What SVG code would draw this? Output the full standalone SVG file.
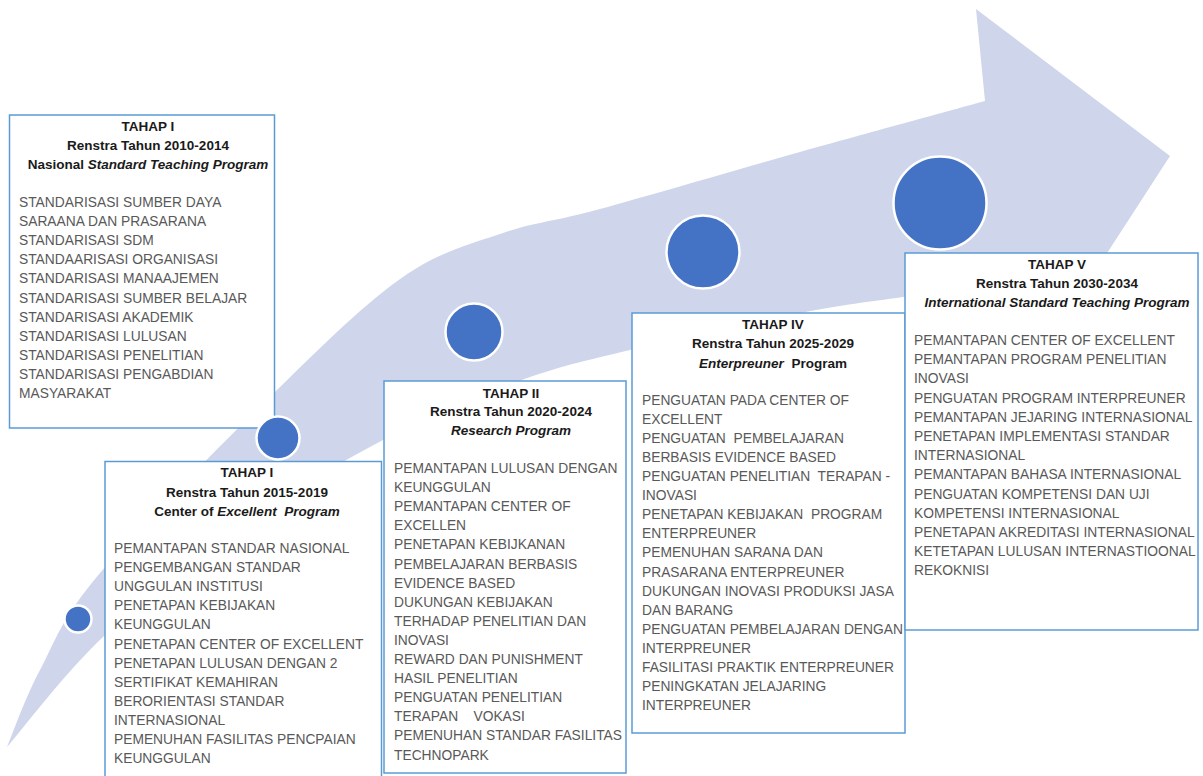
<svg xmlns="http://www.w3.org/2000/svg" width="1203" height="776" viewBox="0 0 1203 776">
<style>
.box{fill:#ffffff;stroke:#5B9BD5;stroke-width:1.5}
.dot{fill:#4472C4;stroke:#ffffff;stroke-width:2.5}
.hd{font-family:"Liberation Sans",Arial,sans-serif;font-size:13.5px;font-weight:bold;fill:#1a1a1a;text-anchor:middle;white-space:pre}
.it{font-style:italic}
.bd{font-family:"Liberation Sans",Arial,sans-serif;font-size:13.8px;fill:#595959;white-space:pre}
</style>
<rect width="1203" height="776" fill="#ffffff"/>
<g id="connectors">
<path id="arrow" fill="#CFD5EA" d="M7,747 C12.5,734.2 24.5,699 40,670 C55.5,641 60.5,619.7 100,573 C139.5,526.3 226.5,439.3 277,390 C327.5,340.7 365.3,303.2 403,277 C440.7,250.8 470.2,244.3 503,233 C535.8,221.7 550.5,222.5 600,209 C649.5,195.5 735.8,170 800,152 C864.2,134 954.2,109.5 985,101 L976,9 L1170,156 L1030,372 L1020,282 C1000.5,284.5 939.7,291.8 903,297 C866.3,302.2 845.5,304.2 800,313 C754.5,321.8 676.8,338.7 630,350 C583.2,361.3 560.2,366 519,381 C477.8,396 429.5,415.7 383,440 C336.5,464.3 286.7,494.2 240,527 C193.3,559.8 141.8,600.3 103,637 C64.2,673.7 23,728.7 7,747 Z"/>
</g>
<g id="tahap1a">
<rect class="box" x="9.5" y="115" width="265" height="313"/>
<text class="hd" x="148" y="131">TAHAP I</text>
<text class="hd" x="148" y="150">Renstra Tahun 2010-2014</text>
<text class="hd" x="148" y="169">Nasional <tspan class="it">Standard Teaching Program</tspan></text>
<text class="bd" x="19" y="207"><tspan x="19">STANDARISASI SUMBER DAYA</tspan><tspan x="19" dy="19.1">SARAANA DAN PRASARANA</tspan><tspan x="19" dy="19.1">STANDARISASI SDM</tspan><tspan x="19" dy="19.1">STANDAARISASI ORGANISASI</tspan><tspan x="19" dy="19.1">STANDARISASI MANAAJEMEN</tspan><tspan x="19" dy="19.1">STANDARISASI SUMBER BELAJAR</tspan><tspan x="19" dy="19.1">STANDARISASI AKADEMIK</tspan><tspan x="19" dy="19.1">STANDARISASI LULUSAN</tspan><tspan x="19" dy="19.1">STANDARISASI PENELITIAN</tspan><tspan x="19" dy="19.1">STANDARISASI PENGABDIAN</tspan><tspan x="19" dy="19.1">MASYARAKAT</tspan></text>
</g>
<g id="tahap1b">
<rect class="box" x="105" y="461.5" width="276.5" height="316"/>
<text class="hd" x="247" y="477">TAHAP I</text>
<text class="hd" x="247" y="497">Renstra Tahun 2015-2019</text>
<text class="hd" x="247" y="516">Center of <tspan class="it">Excellent  Program</tspan></text>
<text class="bd" x="114" y="553"><tspan x="114">PEMANTAPAN STANDAR NASIONAL</tspan><tspan x="114" dy="19.1">PENGEMBANGAN STANDAR</tspan><tspan x="114" dy="19.1">UNGGULAN INSTITUSI</tspan><tspan x="114" dy="19.1">PENETAPAN KEBIJAKAN</tspan><tspan x="114" dy="19.1">KEUNGGULAN</tspan><tspan x="114" dy="19.1">PENETAPAN CENTER OF EXCELLENT</tspan><tspan x="114" dy="19.1">PENETAPAN LULUSAN DENGAN 2</tspan><tspan x="114" dy="19.1">SERTIFIKAT KEMAHIRAN</tspan><tspan x="114" dy="19.1">BERORIENTASI STANDAR</tspan><tspan x="114" dy="19.1">INTERNASIONAL</tspan><tspan x="114" dy="19.1">PEMENUHAN FASILITAS PENCPAIAN</tspan><tspan x="114" dy="19.1">KEUNGGULAN</tspan></text>
</g>
<g id="tahap2">
<rect class="box" x="384" y="381" width="242" height="392"/>
<text class="hd" x="511" y="398">TAHAP II</text>
<text class="hd" x="511" y="416">Renstra Tahun 2020-2024</text>
<text class="hd it" x="511" y="435">Research Program</text>
<text class="bd" x="394" y="473"><tspan x="394">PEMANTAPAN LULUSAN DENGAN</tspan><tspan x="394" dy="19.1">KEUNGGULAN</tspan><tspan x="394" dy="19.1">PEMANTAPAN CENTER OF</tspan><tspan x="394" dy="19.1">EXCELLEN</tspan><tspan x="394" dy="19.1">PENETAPAN KEBIJKANAN</tspan><tspan x="394" dy="19.1">PEMBELAJARAN BERBASIS</tspan><tspan x="394" dy="19.1">EVIDENCE BASED</tspan><tspan x="394" dy="19.1">DUKUNGAN KEBIJAKAN</tspan><tspan x="394" dy="19.1">TERHADAP PENELITIAN DAN</tspan><tspan x="394" dy="19.1">INOVASI</tspan><tspan x="394" dy="19.1">REWARD DAN PUNISHMENT</tspan><tspan x="394" dy="19.1">HASIL PENELITIAN</tspan><tspan x="394" dy="19.1">PENGUATAN PENELITIAN</tspan><tspan x="394" dy="19.1">TERAPAN    VOKASI</tspan><tspan x="394" dy="19.1">PEMENUHAN STANDAR FASILITAS</tspan><tspan x="394" dy="19.1">TECHNOPARK</tspan></text>
</g>
<g id="tahap4">
<rect class="box" x="632" y="313" width="273" height="420"/>
<text class="hd" x="773" y="329">TAHAP IV</text>
<text class="hd" x="773" y="348">Renstra Tahun 2025-2029</text>
<text class="hd" x="773" y="368"><tspan class="it">Enterpreuner</tspan>  Program</text>
<text class="bd" x="642" y="405"><tspan x="642">PENGUATAN PADA CENTER OF</tspan><tspan x="642" dy="19.06">EXCELLENT</tspan><tspan x="642" dy="19.06">PENGUATAN  PEMBELAJARAN</tspan><tspan x="642" dy="19.06">BERBASIS EVIDENCE BASED</tspan><tspan x="642" dy="19.06">PENGUATAN PENELITIAN  TERAPAN -</tspan><tspan x="642" dy="19.06">INOVASI</tspan><tspan x="642" dy="19.06">PENETAPAN KEBIJAKAN  PROGRAM</tspan><tspan x="642" dy="19.06">ENTERPREUNER</tspan><tspan x="642" dy="19.06">PEMENUHAN SARANA DAN</tspan><tspan x="642" dy="19.06">PRASARANA ENTERPREUNER</tspan><tspan x="642" dy="19.06">DUKUNGAN INOVASI PRODUKSI JASA</tspan><tspan x="642" dy="19.06">DAN BARANG</tspan><tspan x="642" dy="19.06">PENGUATAN PEMBELAJARAN DENGAN</tspan><tspan x="642" dy="19.06">INTERPREUNER</tspan><tspan x="642" dy="19.06">FASILITASI PRAKTIK ENTERPREUNER</tspan><tspan x="642" dy="19.06">PENINGKATAN JELAJARING</tspan><tspan x="642" dy="19.06">INTERPREUNER</tspan></text>
</g>
<g id="tahap5">
<rect class="box" x="905" y="253" width="293" height="377"/>
<text class="hd" x="1057" y="269">TAHAP V</text>
<text class="hd" x="1057" y="288">Renstra Tahun 2030-2034</text>
<text class="hd it" x="1057" y="307">International Standard Teaching Program</text>
<text class="bd" x="914" y="345"><tspan x="914">PEMANTAPAN CENTER OF EXCELLENT</tspan><tspan x="914" dy="19.2">PEMANTAPAN PROGRAM PENELITIAN</tspan><tspan x="914" dy="19.2">INOVASI</tspan><tspan x="914" dy="19.2">PENGUATAN PROGRAM INTERPREUNER</tspan><tspan x="914" dy="19.2">PEMANTAPAN JEJARING INTERNASIONAL</tspan><tspan x="914" dy="19.2">PENETAPAN IMPLEMENTASI STANDAR</tspan><tspan x="914" dy="19.2">INTERNASIONAL</tspan><tspan x="914" dy="19.2">PEMANTAPAN BAHASA INTERNASIONAL</tspan><tspan x="914" dy="19.2">PENGUATAN KOMPETENSI DAN UJI</tspan><tspan x="914" dy="19.2">KOMPETENSI INTERNASIONAL</tspan><tspan x="914" dy="19.2">PENETAPAN AKREDITASI INTERNASIONAL</tspan><tspan x="914" dy="19.2">KETETAPAN LULUSAN INTERNASTIOONAL</tspan><tspan x="914" dy="19.2">REKOKNISI</tspan></text>
</g>
<g id="milestones">
<circle id="dot1" class="dot" cx="78" cy="619" r="13.5"/>
<circle id="dot2" class="dot" cx="278" cy="438" r="21.5"/>
<circle id="dot3" class="dot" cx="474" cy="332" r="28.5"/>
<circle id="dot4" class="dot" cx="703" cy="252" r="36.5"/>
<circle id="dot5" class="dot" cx="940" cy="203" r="46.5"/>
</g>
</svg>
